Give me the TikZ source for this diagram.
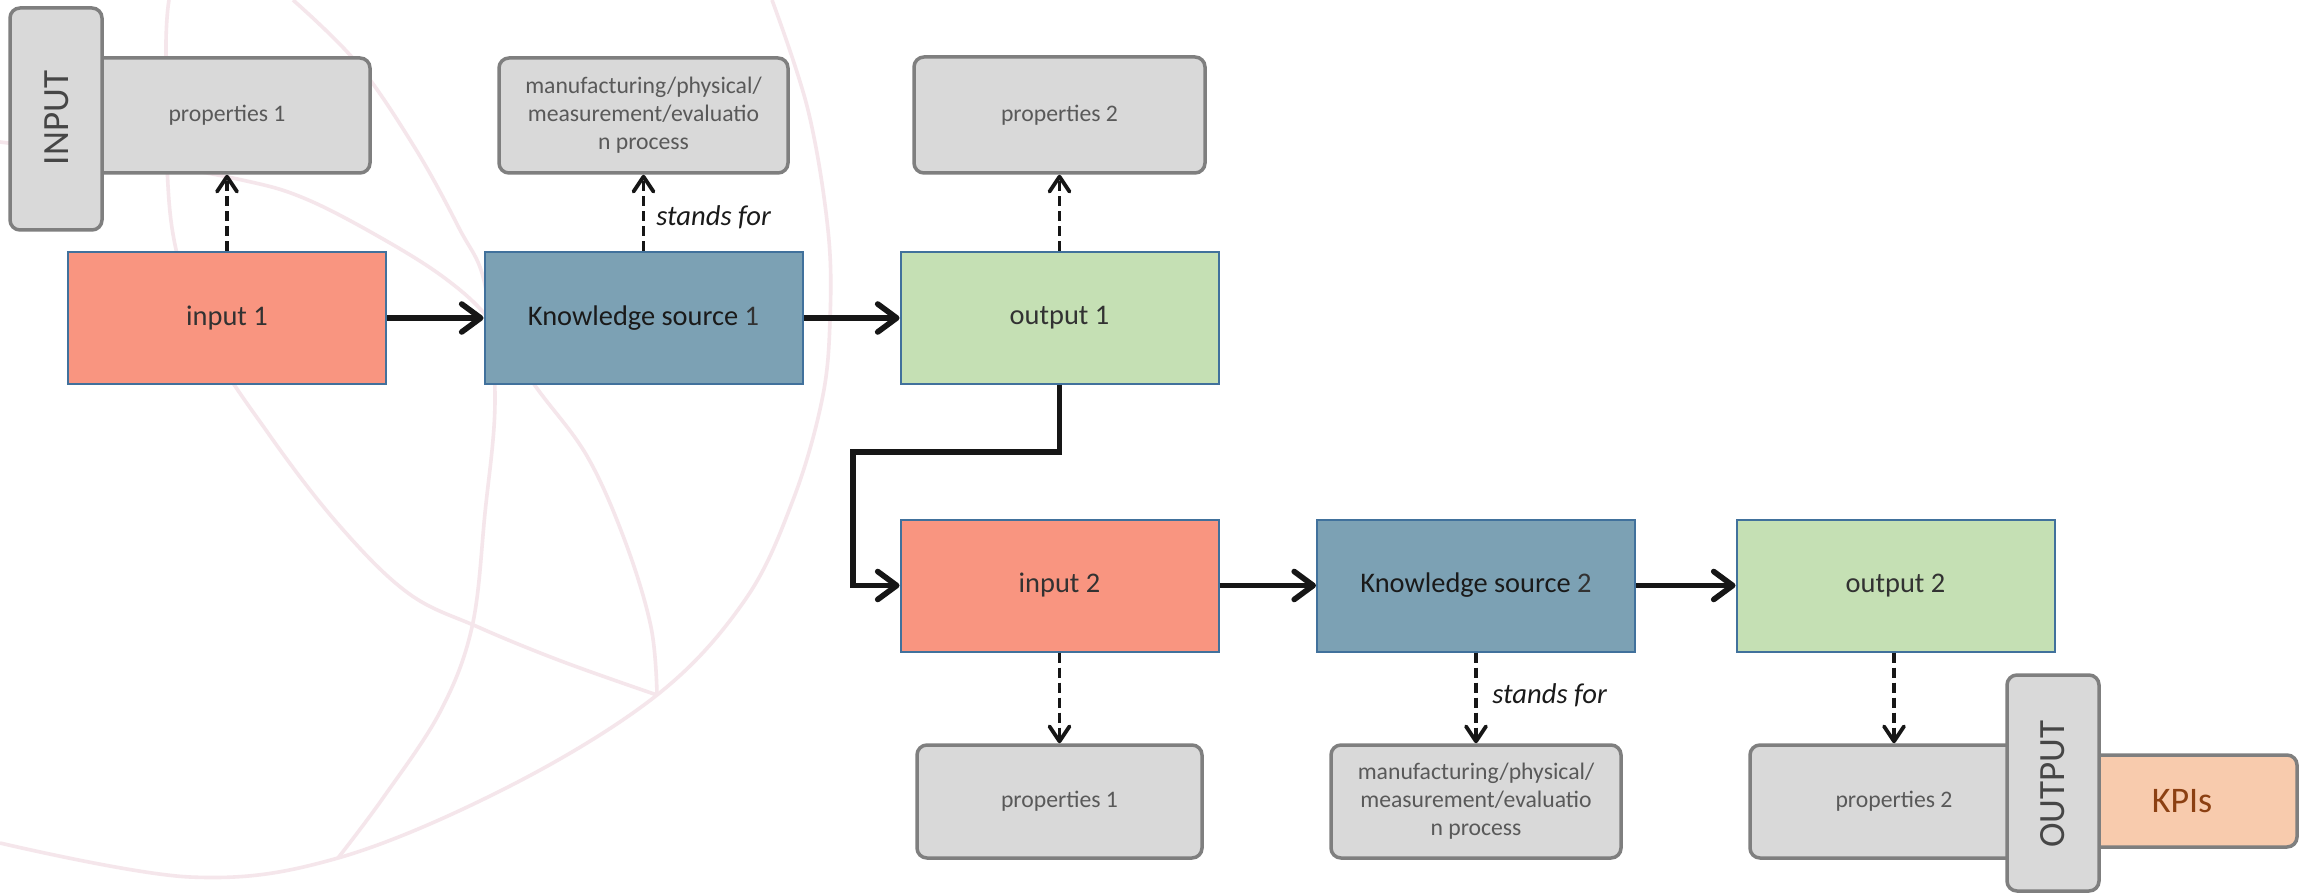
\documentclass[tikz,border=0pt]{standalone}
\usepackage{fontspec}
\setmainfont{Carlito}
\usetikzlibrary{arrows.meta}
\definecolor{cIn}{RGB}{249,149,128}
\definecolor{cKS}{RGB}{124,161,180}
\definecolor{cOut}{RGB}{197,224,180}
\definecolor{cBorder}{RGB}{65,113,156}
\definecolor{cGray}{RGB}{217,217,217}
\definecolor{cGrayB}{RGB}{127,127,127}
\definecolor{cGrayT}{RGB}{89,89,89}
\definecolor{cText}{RGB}{50,50,50}
\definecolor{cDark}{RGB}{26,26,26}
\definecolor{cTab}{RGB}{70,70,70}
\definecolor{cKPI}{RGB}{248,203,173}
\definecolor{cKPIT}{RGB}{140,64,18}
\definecolor{cArc}{RGB}{245,230,235}
\definecolor{cLine}{RGB}{22,22,22}
\begin{document}
\begin{tikzpicture}[x=0.5pt,y=-0.5pt,
  mainbox/.style={draw=cBorder, line width=1pt, minimum width=159pt, minimum height=66pt,
    inner sep=0pt, font=\fontsize{14.2}{17}\selectfont, text=cText},
  graybox/.style={draw=cGrayB, fill=cGray, line width=1.75pt, rounded corners=5pt,
    inner sep=0pt, align=center, font=\fontsize{11.85}{14}\selectfont, text=cGrayT},
  tabbox/.style={draw=cGrayB, fill=cGray, line width=1.75pt, rounded corners=5pt,
    inner sep=0pt, minimum width=46pt, minimum height=111pt},
  tabtext/.style={rotate=90, inner sep=0pt, font=\fontsize{18.5}{21}\selectfont, text=cTab},
  flowarrow/.style={draw=cLine, line width=2.8pt, -{Straight Barb[length=9.5pt,width=14pt,round]}},
  dasharrow/.style={draw=cLine, line width=1.9pt, dash pattern=on 5pt off 2.5pt,
    -{Straight Barb[length=7.5pt,width=10pt,round]}},
  standsfor/.style={anchor=west, inner sep=0pt, font=\itshape\fontsize{14.3}{17}\selectfont, text=cDark},
  bgarc/.style={draw=cArc, line width=1.8pt}
]
\useasboundingbox[fill=white] (0,0) rectangle (2307,893);

% faint background arcs
\draw[bgarc] plot[smooth, tension=0.6] coordinates {(772,0) (808,110) (828,230) (830,320) (822,400) (793,500) (745,600) (657,695) (510,786) (338,858) (190,877) (0,843)};
\draw[bgarc] plot[smooth, tension=0.6] coordinates {(169,0) (166,57) (172,228) (210,342) (268,433) (338,524) (408,593) (478,627) (561,661) (657,695)};
\draw[bgarc] plot[smooth, tension=0.6] coordinates {(293,0) (357,63) (415,148) (459,228) (485,285) (495,399) (485,513) (472,627) (440,712) (383,798) (338,858)};
\draw[bgarc] plot[smooth, tension=0.6] coordinates {(0,142) (120,158) (242,180) (306,199) (383,239) (446,279) (490,320) (536,387) (587,456) (625,541) (651,627) (657,695)};

% top row grey boxes
\node[graybox, minimum width=143pt, minimum height=57.5pt] (p1t) at (227,115.5) {properties 1};
\node[tabbox] (intab) at (56,119) {};
\node[tabtext] (intext) at (57,118) {INPUT};
\node[graybox, minimum width=144.5pt, minimum height=57.5pt] (m1) at (643.5,115.5) {manufacturing/physical/\\measurement/evaluatio\\n process};
\node[graybox, minimum width=145.5pt, minimum height=58pt] (p2t) at (1059.5,115) {properties 2};

% main row 1
\node[mainbox, fill=cIn] (in1) at (227,318) {input 1};
\node[mainbox, fill=cKS] (ks1) at (643.5,318) {\textcolor{cDark}{Knowledge source} 1};
\node[mainbox, fill=cOut] (out1) at (1059.5,318) {output 1};

% main row 2
\node[mainbox, fill=cIn] (in2) at (1059.5,585.5) {input 2};
\node[mainbox, fill=cKS] (ks2) at (1476,585.5) {\textcolor{cDark}{Knowledge source} 2};
\node[mainbox, fill=cOut] (out2) at (1895.5,585.5) {output 2};

% bottom grey boxes
\node[graybox, minimum width=142.5pt, minimum height=56.5pt] (p1b) at (1059.5,801.5) {properties 1};
\node[graybox, minimum width=145pt, minimum height=56.5pt] (m2) at (1476,801.5) {manufacturing/physical/\\measurement/evaluatio\\n process};
\node[graybox, minimum width=144pt, minimum height=56.5pt] (p2b) at (1894,801.5) {properties 2};
\node[graybox, fill=cKPI, minimum width=115pt, minimum height=46pt, font=\fontsize{18}{21}\selectfont, text=cKPIT] (kpi) at (2182,801) {KPIs};
\node[tabbox, minimum height=108pt] (outtab) at (2053,783) {};
\node[tabtext] (outtext) at (2053,784) {OUTPUT};

% flow connectors
\draw[flowarrow] (in1.east) -- (ks1.west);
\draw[flowarrow] (ks1.east) -- (out1.west);
\coordinate (bendA) at (853,452);
\draw[flowarrow] (out1.south) |- (bendA) |- (in2.west);
\draw[flowarrow] (in2.east) -- (ks2.west);
\draw[flowarrow] (ks2.east) -- (out2.west);

% dashed connectors
\draw[dasharrow] (in1.north) -- (in1.north |- p1t.south);
\draw[dasharrow] (ks1.north) -- (ks1.north |- m1.south);
\draw[dasharrow] (out1.north) -- (out1.north |- p2t.south);
\draw[dasharrow] (in2.south) -- (in2.south |- p1b.north);
\draw[dasharrow] (ks2.south) -- (ks2.south |- m2.north);
\draw[dasharrow] (p2b.north |- out2.south) -- (p2b.north);

\node[standsfor] (sf1) at (656,217) {stands for};
\node[standsfor] (sf2) at (1492,695) {stands for};
\end{tikzpicture}
\end{document}
